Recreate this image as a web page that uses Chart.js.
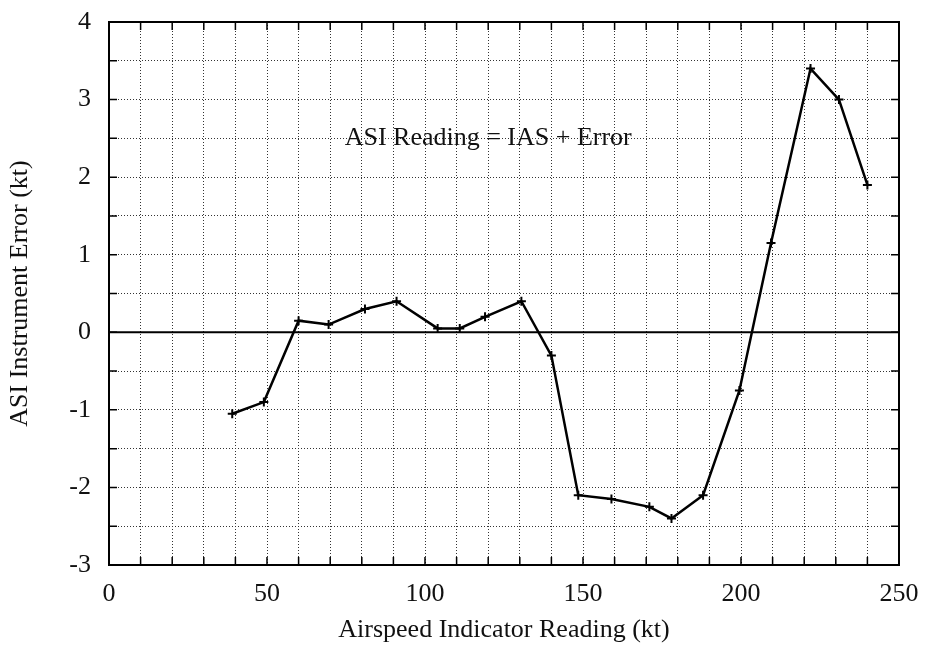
<!DOCTYPE html>
<html>
<head>
<meta charset="utf-8">
<style>
  html, body { margin: 0; padding: 0; background: #fff; }
  #wrap { width: 927px; height: 653px; }
</style>
<script src="https://cdn.jsdelivr.net/npm/chart.js@4/dist/chart.umd.min.js"></script>
</head>
<body>
<div id="wrap"><canvas id="c" width="927" height="653"></canvas></div>
<script>
// Airspeed indicator readings (kt) and the instrument error at each one (kt)
const airspeed = [39, 49, 60, 69.5, 81, 91, 104, 111, 119, 130.5, 140, 148.5, 159, 171, 178, 188, 199.5, 209.5, 222, 231, 240];
const asiError = [-1.05, -0.9, 0.15, 0.1, 0.3, 0.4, 0.05, 0.05, 0.2, 0.4, -0.3, -2.1, -2.15, -2.25, -2.4, -2.1, -0.75, 1.15, 3.4, 3.0, 1.9];

// Axis ranges and labelled tick steps
const xRange = [0, 250];
const yRange = [-3, 4];
const xLabelStep = 50;
const yLabelStep = 1;

const noteText = 'ASI Reading = IAS + Error';
const notePos = { x: 120, y: 2.5 };

const FONT = '"Liberation Serif", "Times New Roman", serif';
const INK = '#111';

const points = airspeed.map((x, i) => ({ x: x, y: asiError[i] }));

// Frame, inner tick marks, zero line and the formula note
const framePlugin = {
  id: 'frame',
  beforeDatasetsDraw(chart) {
    const { ctx, chartArea: a, scales: { x, y } } = chart;
    ctx.save();
    // zero reference line
    const y0 = y.getPixelForValue(0);
    ctx.strokeStyle = '#000';
    ctx.lineWidth = 2;
    ctx.beginPath();
    ctx.moveTo(a.left, y0);
    ctx.lineTo(a.right, y0);
    ctx.stroke();
    // note
    ctx.fillStyle = INK;
    ctx.font = '26px ' + FONT;
    ctx.textAlign = 'center';
    ctx.textBaseline = 'middle';
    ctx.fillText(noteText, x.getPixelForValue(notePos.x), y.getPixelForValue(notePos.y));
    ctx.restore();
  },
  afterDraw(chart) {
    const { ctx, chartArea: a, scales: { x, y } } = chart;
    ctx.save();
    ctx.strokeStyle = '#000';
    ctx.lineWidth = 1.5;
    const len = 8;
    ctx.beginPath();
    x.ticks.forEach(t => {
      const px = x.getPixelForValue(t.value);
      ctx.moveTo(px, a.bottom); ctx.lineTo(px, a.bottom - len);
      ctx.moveTo(px, a.top); ctx.lineTo(px, a.top + len);
    });
    y.ticks.forEach(t => {
      const py = y.getPixelForValue(t.value);
      ctx.moveTo(a.left, py); ctx.lineTo(a.left + len, py);
      ctx.moveTo(a.right, py); ctx.lineTo(a.right - len, py);
    });
    ctx.stroke();
    ctx.lineWidth = 2;
    ctx.strokeRect(a.left, a.top, a.right - a.left, a.bottom - a.top);
    ctx.restore();
  }
};

new Chart(document.getElementById('c'), {
  type: 'line',
  data: {
    datasets: [{
      data: points,
      borderColor: '#000',
      borderWidth: 2.5,
      tension: 0,
      fill: false,
      pointStyle: 'cross',
      pointRadius: 4.5,
      pointBorderWidth: 2,
      pointBorderColor: '#000',
      pointHoverRadius: 4.5
    }]
  },
  options: {
    responsive: false,
    animation: false,
    events: [],
    layout: { padding: 0 },
    plugins: { legend: { display: false }, tooltip: { enabled: false } },
    scales: {
      x: {
        type: 'linear',
        min: xRange[0], max: xRange[1],
        afterFit(s) {
          s.height = 88;
          s.paddingLeft = 0;
          s.paddingRight = 28;
        },
        grid: { color: '#333', lineWidth: 1, drawTicks: false, tickLength: 0 },
        border: { display: false, dash: [1, 2] },
        ticks: {
          stepSize: 10,
          autoSkip: false,
          maxRotation: 0,
          padding: 14,
          color: INK,
          font: { family: FONT, size: 26 },
          callback: v => (v % xLabelStep === 0 ? String(v) : '')
        },
        title: {
          display: true,
          text: 'Airspeed Indicator Reading (kt)',
          color: INK,
          font: { family: FONT, size: 26 },
          padding: { top: 0, bottom: 7 }
        }
      },
      y: {
        type: 'linear',
        min: yRange[0], max: yRange[1],
        afterFit(s) {
          s.width = 109;
          s.paddingTop = 22;
          s.paddingBottom = 0;
        },
        grid: { color: '#333', lineWidth: 1, drawTicks: false, tickLength: 0 },
        border: { display: false, dash: [1, 2] },
        ticks: {
          stepSize: 0.5,
          autoSkip: false,
          padding: 18,
          color: INK,
          font: { family: FONT, size: 26 },
          callback: v => (Math.abs(v % yLabelStep) < 1e-9 ? String(v) : '')
        },
        title: {
          display: true,
          text: 'ASI Instrument Error (kt)',
          color: INK,
          font: { family: FONT, size: 26 },
          padding: { top: 5, bottom: 0 }
        }
      }
    }
  },
  plugins: [framePlugin]
});
</script>
</body>
</html>
